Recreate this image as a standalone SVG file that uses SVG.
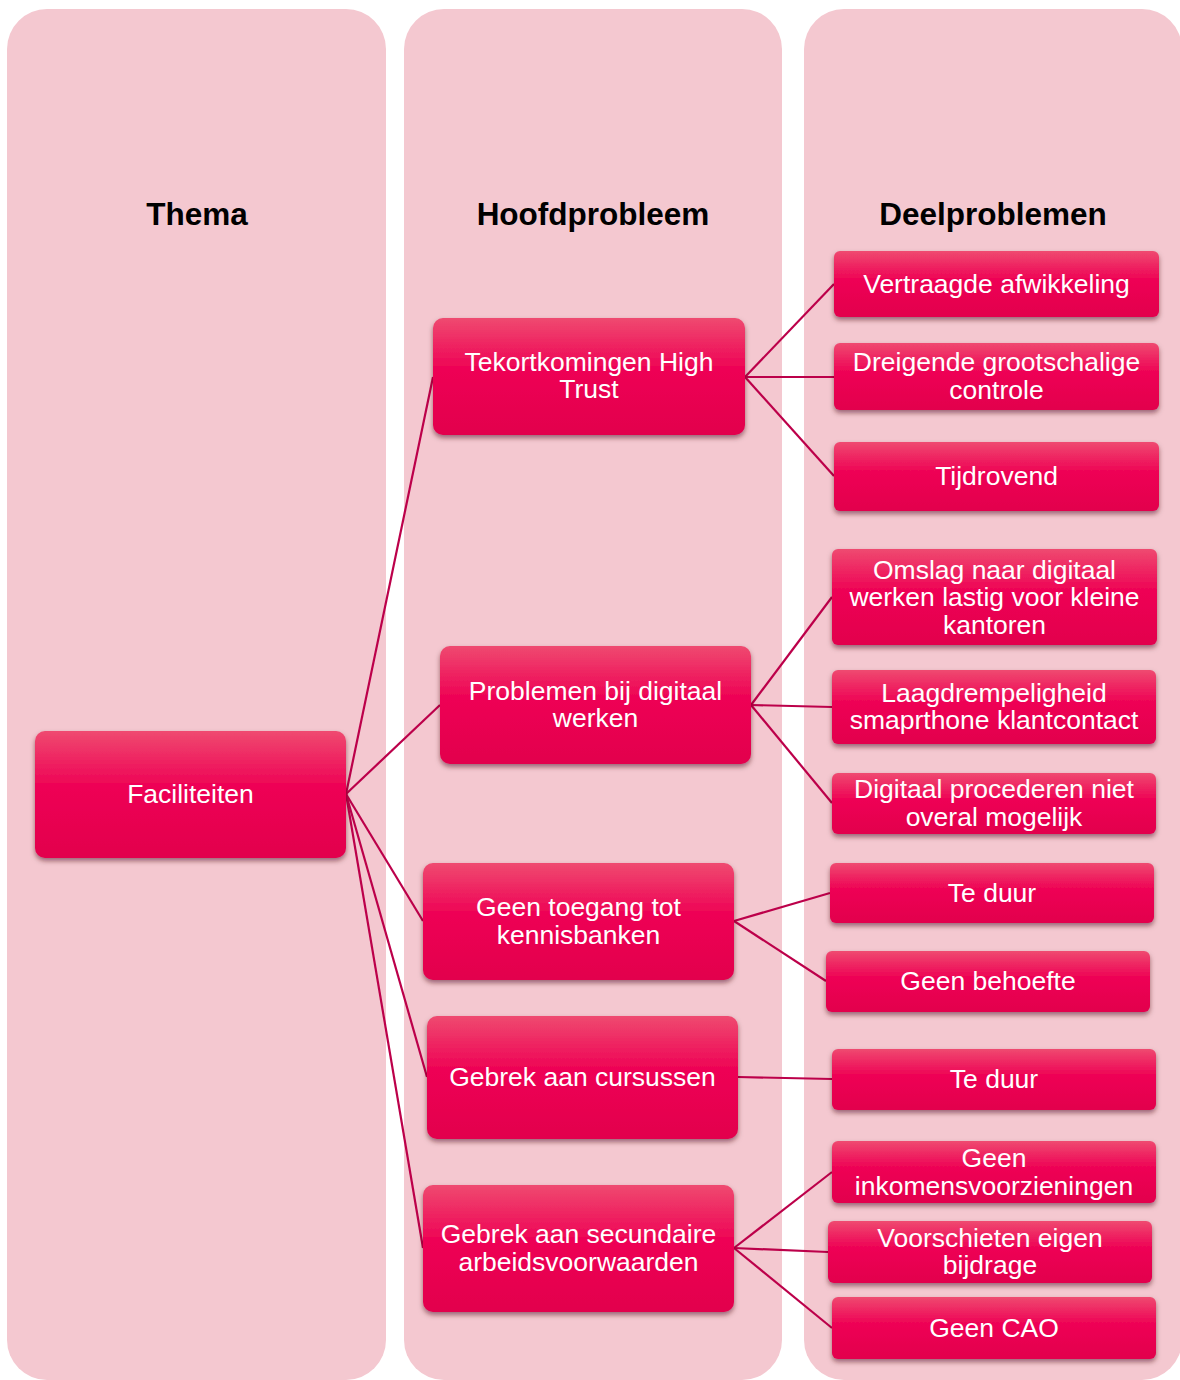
<svg xmlns="http://www.w3.org/2000/svg" width="1180" height="1380" viewBox="0 0 1180 1380">
  <defs>
    <linearGradient id="boxFill" x1="0" y1="0" x2="0" y2="1">
      <stop offset="0" stop-color="#EF4A70"/>
      <stop offset="0.45" stop-color="#EE0054"/>
      <stop offset="1" stop-color="#E2004D"/>
    </linearGradient>
    <filter id="shadow" x="-10%" y="-20%" width="120%" height="150%">
      <feDropShadow dx="0" dy="3" stdDeviation="2.5" flood-color="#400010" flood-opacity="0.5"/>
    </filter>
    <style>
      .col { fill: #F4C8D0; }
      .head { font-family: "Liberation Sans", Arial, sans-serif; font-weight: bold; font-size: 31.5px; fill: #000; text-anchor: middle; }
      .box { fill: url(#boxFill); filter: url(#shadow); }
      .lbl { font-family: "Liberation Sans", Arial, sans-serif; font-size: 26.5px; fill: #FFFFFF; text-anchor: middle; }
      .edge { stroke: #BC004A; stroke-width: 2.2; fill: none; }
    </style>
  </defs>

  <rect width="1180" height="1380" fill="#FFFFFF"/>

  <!-- column backgrounds -->
  <g id="columns">
    <rect class="col" x="7" y="9" width="379" height="1371" rx="40"/>
    <rect class="col" x="404" y="9" width="378" height="1371" rx="40"/>
    <rect class="col" x="804" y="9" width="378" height="1371" rx="40"/>
    <text class="head" x="197" y="225">Thema</text>
    <text class="head" x="593" y="225">Hoofdprobleem</text>
    <text class="head" x="993" y="225">Deelproblemen</text>
  </g>

  <!-- connectors -->
  <g id="connectors">
    <line class="edge" x1="346" y1="794" x2="433" y2="377"/>
    <line class="edge" x1="346" y1="794" x2="440" y2="705"/>
    <line class="edge" x1="346" y1="794" x2="423" y2="921"/>
    <line class="edge" x1="346" y1="794" x2="427" y2="1077"/>
    <line class="edge" x1="346" y1="794" x2="423" y2="1248"/>

    <line class="edge" x1="745" y1="377" x2="834" y2="284"/>
    <line class="edge" x1="745" y1="377" x2="834" y2="377"/>
    <line class="edge" x1="745" y1="377" x2="834" y2="476"/>

    <line class="edge" x1="751" y1="705" x2="832" y2="597"/>
    <line class="edge" x1="751" y1="705" x2="832" y2="707"/>
    <line class="edge" x1="751" y1="705" x2="832" y2="803"/>

    <line class="edge" x1="734" y1="921" x2="830" y2="893"/>
    <line class="edge" x1="734" y1="921" x2="826" y2="981"/>

    <line class="edge" x1="738" y1="1077" x2="832" y2="1079"/>

    <line class="edge" x1="734" y1="1248" x2="832" y2="1172"/>
    <line class="edge" x1="734" y1="1248" x2="828" y2="1252"/>
    <line class="edge" x1="734" y1="1248" x2="832" y2="1328"/>
  </g>

  <!-- thema -->
  <g id="n-faciliteiten">
    <rect class="box" x="35" y="731" width="311" height="127" rx="10"/>
    <text class="lbl" x="190.5" y="803">Faciliteiten</text>
  </g>

  <!-- hoofdproblemen -->
  <g id="n-high-trust">
    <rect class="box" x="433" y="318" width="312" height="117" rx="10"/>
    <text class="lbl" x="589" y="371">Tekortkomingen High</text>
    <text class="lbl" x="589" y="398">Trust</text>
  </g>
  <g id="n-digitaal">
    <rect class="box" x="440" y="646" width="311" height="118" rx="10"/>
    <text class="lbl" x="595.5" y="700">Problemen bij digitaal</text>
    <text class="lbl" x="595.5" y="727">werken</text>
  </g>
  <g id="n-kennisbanken">
    <rect class="box" x="423" y="863" width="311" height="117" rx="10"/>
    <text class="lbl" x="578.5" y="916">Geen toegang tot</text>
    <text class="lbl" x="578.5" y="944">kennisbanken</text>
  </g>
  <g id="n-cursussen">
    <rect class="box" x="427" y="1016" width="311" height="123" rx="10"/>
    <text class="lbl" x="582.5" y="1086">Gebrek aan cursussen</text>
  </g>
  <g id="n-secundair">
    <rect class="box" x="423" y="1185" width="311" height="127" rx="10"/>
    <text class="lbl" x="578.5" y="1243">Gebrek aan secundaire</text>
    <text class="lbl" x="578.5" y="1271">arbeidsvoorwaarden</text>
  </g>

  <!-- deelproblemen -->
  <g id="d-afwikkeling">
    <rect class="box" x="834" y="251" width="325" height="66" rx="6"/>
    <text class="lbl" x="996.5" y="293">Vertraagde afwikkeling</text>
  </g>
  <g id="d-controle">
    <rect class="box" x="834" y="343" width="325" height="67" rx="6"/>
    <text class="lbl" x="996.5" y="371">Dreigende grootschalige</text>
    <text class="lbl" x="996.5" y="399">controle</text>
  </g>
  <g id="d-tijdrovend">
    <rect class="box" x="834" y="442" width="325" height="69" rx="6"/>
    <text class="lbl" x="996.5" y="485">Tijdrovend</text>
  </g>
  <g id="d-omslag">
    <rect class="box" x="832" y="549" width="325" height="96" rx="6"/>
    <text class="lbl" x="994.5" y="579">Omslag naar digitaal</text>
    <text class="lbl" x="994.5" y="606">werken lastig voor kleine</text>
    <text class="lbl" x="994.5" y="634">kantoren</text>
  </g>
  <g id="d-smartphone">
    <rect class="box" x="832" y="670" width="324" height="74" rx="6"/>
    <text class="lbl" x="994" y="702">Laagdrempeligheid</text>
    <text class="lbl" x="994" y="729">smaprthone klantcontact</text>
  </g>
  <g id="d-procederen">
    <rect class="box" x="832" y="773" width="324" height="61" rx="6"/>
    <text class="lbl" x="994" y="798">Digitaal procederen niet</text>
    <text class="lbl" x="994" y="826">overal mogelijk</text>
  </g>
  <g id="d-duur1">
    <rect class="box" x="830" y="863" width="324" height="60" rx="6"/>
    <text class="lbl" x="992" y="902">Te duur</text>
  </g>
  <g id="d-behoefte">
    <rect class="box" x="826" y="951" width="324" height="61" rx="6"/>
    <text class="lbl" x="988" y="990">Geen behoefte</text>
  </g>
  <g id="d-duur2">
    <rect class="box" x="832" y="1049" width="324" height="61" rx="6"/>
    <text class="lbl" x="994" y="1088">Te duur</text>
  </g>
  <g id="d-inkomen">
    <rect class="box" x="832" y="1141" width="324" height="62" rx="6"/>
    <text class="lbl" x="994" y="1167">Geen</text>
    <text class="lbl" x="994" y="1195">inkomensvoorzieningen</text>
  </g>
  <g id="d-bijdrage">
    <rect class="box" x="828" y="1221" width="324" height="62" rx="6"/>
    <text class="lbl" x="990" y="1247">Voorschieten eigen</text>
    <text class="lbl" x="990" y="1274">bijdrage</text>
  </g>
  <g id="d-cao">
    <rect class="box" x="832" y="1297" width="324" height="62" rx="6"/>
    <text class="lbl" x="994" y="1337">Geen CAO</text>
  </g>
</svg>
